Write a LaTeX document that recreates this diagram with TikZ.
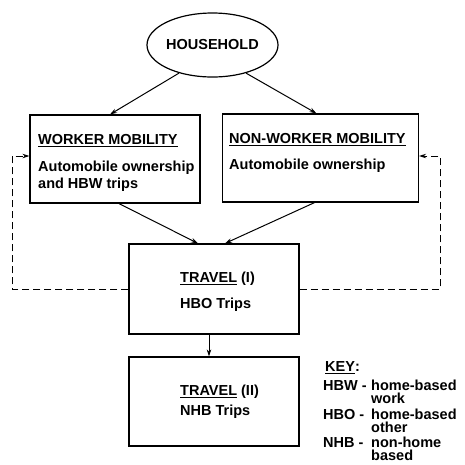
\documentclass[tikz,border=0pt]{standalone}
\usepackage{fontspec}
\setmainfont{Liberation Sans}
\usetikzlibrary{arrows.meta, shapes.geometric}
\newcommand{\undl}[1]{\leavevmode\vtop{\hbox{#1}\kern1.5pt\hrule height 1.3pt}}

\begin{document}
\begin{tikzpicture}[x=1pt, y=1pt,
  box/.style={draw, line width=1.2pt, minimum width=170pt, minimum height=88pt, inner sep=0pt},
  txt/.style={font=\fontsize{14.5}{16}\selectfont\bfseries, inner sep=0pt, anchor=base west},
  arr/.style={-{Stealth[length=7pt, width=4.5pt]}, line width=1pt},
  dsh/.style={dash pattern=on 7pt off 4pt, line width=1pt}]
\useasboundingbox (0,0) rectangle (465,-464);
% household
\node [draw, ellipse, line width=1.2pt, minimum width=119pt, minimum height=64pt, inner sep=0pt,
  font=\fontsize{14.5}{16}\selectfont\bfseries] (hh) at (212.5,-45) {HOUSEHOLD};
% boxes
\node [box] (wm) at (115,-159) {};
\node [box, minimum width=196pt] (nw) at (320.5,-158) {};
\node [box, minimum height=90pt] (t1) at (214,-289) {};
\node [box, minimum height=89pt] (t2) at (214,-401.5) {};
% texts in the boxes
\node [txt] (wmt) at (38,-144) {\undl{WORKER MOBILITY}};
\node [txt] (wma) at (38,-171) {Automobile ownership};
\node [txt] (wmb) at (38,-188) {and HBW trips};
\node [txt] (nwt) at (229,-143) {\undl{NON-WORKER MOBILITY}};
\node [txt] (nwa) at (229,-169) {Automobile ownership};
\node [txt] (t1t) at (180,-282) {\undl{TRAVEL} (I)};
\node [txt] (t1a) at (180,-308) {HBO Trips};
\node [txt] (t2t) at (180,-395) {\undl{TRAVEL} (II)};
\node [txt] (t2a) at (180,-415) {NHB Trips};
% key
\node [txt] (key) at (325,-371) {\undl{KEY}:};
\node [txt] (hbw) at (323,-390) {HBW -};
\node [txt] (hbwa) at (371,-390) {home-based};
\node [txt] (hbwb) at (371,-403) {work};
\node [txt] (hbo) at (323,-419) {HBO -};
\node [txt] (hboa) at (371,-419) {home-based};
\node [txt] (hbob) at (371,-432) {other};
\node [txt] (nhb) at (323,-447) {NHB -};
\node [txt] (nhba) at (371,-447) {non-home};
\node [txt] (nhbb) at (371,-460) {based};
% arrows
\draw [arr] (hh.-140) -- ([xshift=-5pt]wm.north);
\draw [arr] (hh.-40) -- ([xshift=-4pt]nw.north);
\draw [arr] ([xshift=4pt]wm.south) -- ([xshift=-16pt]t1.north);
\draw [arr] ([xshift=-6pt]nw.south) -- ([xshift=11pt]t1.north);
\draw [arr] ([xshift=-5pt]t1.south) -- ([xshift=-5pt]t2.north);
% feedback loops
\draw [dsh, -{Stealth[length=7pt, width=4.5pt]}] (t1.west) -| (12,-156) -- (wm.west |- 0,-156);
\draw [dsh, -{Stealth[length=7pt, width=4.5pt]}] (t1.east) -| (440,-156) -- (nw.east |- 0,-156);
\end{tikzpicture}
\end{document}
